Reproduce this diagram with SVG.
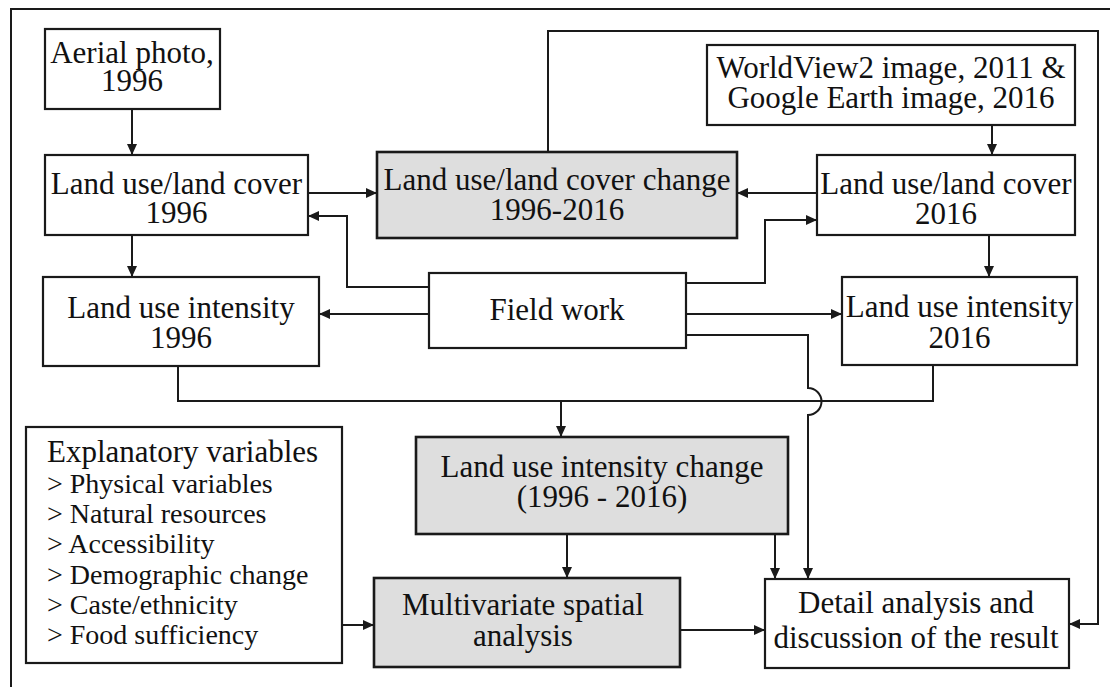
<svg xmlns="http://www.w3.org/2000/svg" width="1110" height="687" viewBox="0 0 1110 687">
<defs>
<style>
.box{fill:#fff;stroke:#1a1a1a;stroke-width:2.2}
.gbox{fill:#dedede;stroke:#1a1a1a;stroke-width:2.6}
.t{font-family:"Liberation Serif","Times New Roman",serif;font-size:31px;fill:#111;text-anchor:middle}
.l{font-family:"Liberation Serif","Times New Roman",serif;font-size:28px;fill:#111}
.c{fill:none;stroke:#1a1a1a;stroke-width:2}
</style>
<marker id="ah" markerUnits="userSpaceOnUse" markerWidth="11" markerHeight="10" refX="11" refY="5" orient="auto">
<path d="M0,0 L11,5 L0,10 z" fill="#1a1a1a"/>
</marker>
</defs>
<rect width="1110" height="687" fill="#fff"/>
<path d="M11,690 V9 H1112" fill="none" stroke="#1a1a1a" stroke-width="2"/>

<g id="connectors">
<path class="c" d="M132,109 V155" marker-end="url(#ah)"/>
<path class="c" d="M308,193 H377" marker-end="url(#ah)"/>
<path class="c" d="M817,193 H737" marker-end="url(#ah)"/>
<path class="c" d="M992,125 V155" marker-end="url(#ah)"/>
<path class="c" d="M132,235 V277" marker-end="url(#ah)"/>
<path class="c" d="M989,235 V277" marker-end="url(#ah)"/>
<path class="c" d="M429,287 H347 V216 H308" marker-end="url(#ah)"/>
<path class="c" d="M686,283 H765 V220 H817" marker-end="url(#ah)"/>
<path class="c" d="M429,314 H319" marker-end="url(#ah)"/>
<path class="c" d="M686,314 H842" marker-end="url(#ah)"/>
<path class="c" d="M686,335 H808 V388 A13.5,13.5 0 0 1 808,415 V579" marker-end="url(#ah)"/>
<path class="c" d="M178,366 V401 H933 V365"/>
<path class="c" d="M561,401 V437" marker-end="url(#ah)"/>
<path class="c" d="M567,534 V578" marker-end="url(#ah)"/>
<path class="c" d="M775,534 V579" marker-end="url(#ah)"/>
<path class="c" d="M342,625 H374" marker-end="url(#ah)"/>
<path class="c" d="M680,630 H765" marker-end="url(#ah)"/>
<path class="c" d="M548,152 V31 H1098 V624 H1069" marker-end="url(#ah)"/>
</g>

<g id="aerial">
<rect class="box" x="45" y="29" width="175" height="80"/>
<text class="t" x="132" y="63">Aerial photo,</text>
<text class="t" x="132" y="91">1996</text>
</g>
<g id="lulc1996">
<rect class="box" x="45" y="155" width="263" height="80"/>
<text class="t" x="176.5" y="194">Land use/land cover</text>
<text class="t" x="176.5" y="223">1996</text>
</g>
<g id="lulcchange">
<rect class="gbox" x="377" y="152" width="360" height="86"/>
<text class="t" x="557" y="190">Land use/land cover change</text>
<text class="t" x="557" y="220">1996-2016</text>
</g>
<g id="worldview">
<rect class="box" x="707" y="45" width="368" height="80"/>
<text class="t" x="891" y="78">WorldView2 image, 2011 &amp;</text>
<text class="t" x="891" y="108">Google Earth image, 2016</text>
</g>
<g id="lulc2016">
<rect class="box" x="817" y="155" width="258" height="80"/>
<text class="t" x="946" y="194">Land use/land cover</text>
<text class="t" x="946" y="224">2016</text>
</g>
<g id="fieldwork">
<rect class="box" x="429" y="273" width="257" height="75"/>
<text class="t" x="557" y="320">Field work</text>
</g>
<g id="lui1996">
<rect class="box" x="43" y="277" width="276" height="89"/>
<text class="t" x="181" y="318">Land use intensity</text>
<text class="t" x="181" y="348">1996</text>
</g>
<g id="lui2016">
<rect class="box" x="842" y="277" width="235" height="88"/>
<text class="t" x="959.5" y="317">Land use intensity</text>
<text class="t" x="959.5" y="348">2016</text>
</g>
<g id="explanatory">
<rect class="box" x="26" y="427" width="316" height="236"/>
<text class="t" x="47" y="462" style="text-anchor:start">Explanatory variables</text>
<text class="l" x="47" y="493">&gt; Physical variables</text>
<text class="l" x="47" y="523">&gt; Natural resources</text>
<text class="l" x="47" y="553">&gt; Accessibility</text>
<text class="l" x="47" y="584">&gt; Demographic change</text>
<text class="l" x="47" y="614">&gt; Caste/ethnicity</text>
<text class="l" x="47" y="644">&gt; Food sufficiency</text>
</g>
<g id="luichange">
<rect class="gbox" x="416" y="437" width="372" height="97"/>
<text class="t" x="602" y="477">Land use intensity change</text>
<text class="t" x="602" y="507">(1996 - 2016)</text>
</g>
<g id="multivariate">
<rect class="gbox" x="374" y="578" width="306" height="89"/>
<text class="t" x="523" y="615">Multivariate spatial</text>
<text class="t" x="523" y="646">analysis</text>
</g>
<g id="detail">
<rect class="box" x="765" y="579" width="304" height="89"/>
<text class="t" x="916" y="613">Detail analysis and</text>
<text class="t" x="916" y="648">discussion of the result</text>
</g>
</svg>
